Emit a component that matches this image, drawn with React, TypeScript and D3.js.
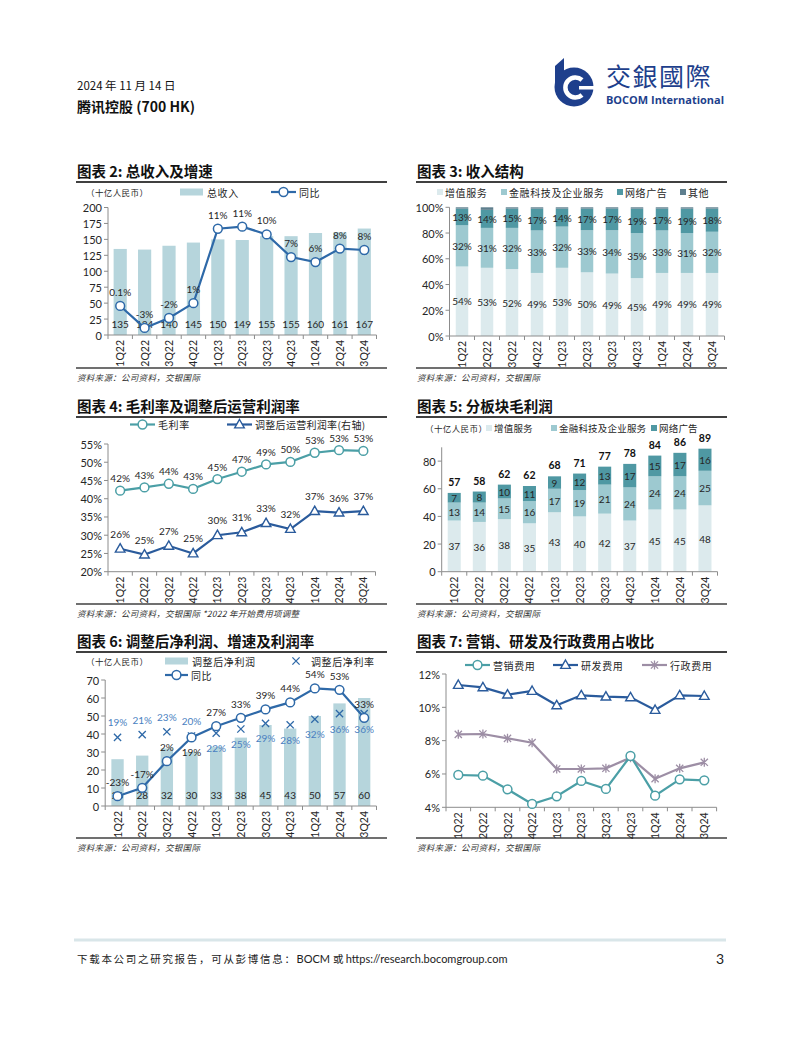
import React from "react";
import * as d3 from "d3";

// ---------------- DATA ----------------
const quarters = ["1Q22", "2Q22", "3Q22", "4Q22", "1Q23", "2Q23", "3Q23", "4Q23", "1Q24", "2Q24", "3Q24"];

// Chart 2: total revenue (RMB bn) and YoY growth (%)
const revenue = [135, 134, 140, 145, 150, 149, 155, 155, 160, 161, 167];
const revenueYoY = [0.1, -3.0, -1.6, 0.5, 11.0, 11.3, 10.2, 7.0, 6.3, 8.2, 8.0];
const revenueYoYLabels = ["0.1%", "-3%", "-2%", "1%", "11%", "11%", "10%", "7%", "6%", "8%", "8%"];
const revTicks = [0, 25, 50, 75, 100, 125, 150, 175, 200];

// Chart 3: revenue mix (%)
const mixVAS = [54, 53, 52, 49, 53, 50, 49, 45, 49, 49, 49];
const mixFintech = [32, 31, 32, 33, 32, 33, 34, 35, 33, 31, 32];
const mixAds = [13, 14, 15, 17, 14, 17, 17, 19, 17, 19, 18];
const mixOther = [1, 2, 1, 1, 1, 1, 1, 1, 1, 1, 1];
const mixTicks = [0, 0.2, 0.4, 0.6, 0.8, 1];

// Chart 4: margins (%)
const grossMargin = [42.2, 43.1, 44.1, 42.7, 45.4, 47.4, 49.4, 50.1, 52.6, 53.3, 53.1];
const opMargin = [26.3, 24.7, 27.1, 25.0, 30.0, 30.8, 33.3, 31.7, 36.6, 36.2, 36.6];
const marginTicks = [20, 25, 30, 35, 40, 45, 50, 55];

// Chart 5: gross profit by segment (RMB bn)
const gpVAS = [37, 36, 38, 35, 43, 40, 42, 37, 45, 45, 48];
const gpFintech = [13, 14, 15, 16, 17, 19, 21, 24, 24, 24, 25];
const gpAds = [7, 8, 10, 11, 9, 12, 13, 17, 15, 17, 16];
const gpTotal = [57, 58, 62, 62, 68, 71, 77, 78, 84, 86, 89];
const gpTicks = [0, 20, 40, 60, 80];

// Chart 6: adjusted net profit (RMB bn), YoY (%), net margin (%)
const adjNP = [26, 28, 32, 30, 33, 38, 45, 43, 50, 57, 60];
const npYoY = [-23, -17, 2, 19, 27, 33, 39, 44, 54, 53, 33];
const npMargin = [19, 21, 23, 20, 22, 25, 29, 28, 32, 36, 36];
const npTicks = [0, 10, 20, 30, 40, 50, 60, 70];

// Chart 7: expense ratios (%)
const sellingRatio = [5.94, 5.9, 5.08, 4.2, 4.66, 5.58, 5.1, 7.08, 4.7, 5.68, 5.62];
const rdRatio = [11.34, 11.2, 10.76, 10.98, 10.12, 10.72, 10.64, 10.6, 9.84, 10.72, 10.68];
const adminRatio = [8.38, 8.4, 8.14, 7.88, 6.3, 6.3, 6.34, 6.98, 5.72, 6.34, 6.7];
const expTicks = [4, 6, 8, 10, 12];

// ---------------- STYLE ----------------
const CJK = "'Noto Sans CJK SC', 'Noto Sans', sans-serif";
const NUM = "Lato, 'Noto Sans CJK SC', sans-serif";
const TXT = "#262626";
const AXIS = "#8c8c8c";
const BAR = "#b6d5dc";
const BLUE = "#2e69a8";
const DARKBLUE = "#2a5b9c";
const TEAL = "#4b9fa6";
const C_VAS = "#dceaed";
const C_FIN = "#9dc9d0";
const C_ADS = "#4f98a3";
const C_OTH = "#5f7f8e";
const PURPLE = "#9d8ea5";
const NAVY = "#1e3f8c";
const SOURCE = "资料来源：公司资料，交银国际";

type Band = d3.ScaleBand<string>;
const center = (x: Band, i: number) => (x(quarters[i]) as number) + x.bandwidth() / 2;

function Frame({ x0, x1, titleY, title, bottomY, source }: any) {
  return (
    <g>
      <text x={x0} y={titleY} fontFamily={CJK} fontWeight={700} fontSize={14.5} fill="#111" dominantBaseline="central">
        {title}
      </text>
      <line x1={x0 - 1} x2={x1} y1={titleY + 12} y2={titleY + 12} stroke="#404040" strokeWidth={1.8} />
      <line x1={x0 - 1} x2={x1} y1={bottomY} y2={bottomY} stroke="#404040" strokeWidth={1.6} />
      <text x={x0} y={bottomY + 8.5} fontFamily={CJK} fontStyle="italic" fontSize={8.5} fill="#333" dominantBaseline="central" letterSpacing={0.3}>
        {source}
      </text>
    </g>
  );
}

function YAxis({ x, scale, ticks, fmt }: any) {
  const [b, t] = scale.range();
  return (
    <g>
      <line x1={x} x2={x} y1={b} y2={t} stroke={AXIS} strokeWidth={1} />
      {ticks.map((v: number) => (
        <g key={v}>
          <line x1={x - 4} x2={x} y1={scale(v)} y2={scale(v)} stroke={AXIS} strokeWidth={1} />
          <text x={x - 6} y={scale(v)} textAnchor="end" dominantBaseline="central" fontFamily={NUM} fontSize={11} fill={TXT}>
            {fmt(v)}
          </text>
        </g>
      ))}
    </g>
  );
}

function XAxis({ x, y }: { x: Band; y: number }) {
  const [x0, x1] = x.range();
  const step = x.step();
  return (
    <g>
      <line x1={x0} x2={x1} y1={y} y2={y} stroke={AXIS} strokeWidth={1} />
      {d3.range(quarters.length + 1).map((i) => (
        <line key={"t" + i} x1={x0 + i * step} x2={x0 + i * step} y1={y} y2={y + 4} stroke={AXIS} strokeWidth={1} />
      ))}
      {quarters.map((q, i) => (
        <text
          key={q}
          transform={`translate(${center(x, i)},${y + 5}) rotate(-90)`}
          textAnchor="end"
          dominantBaseline="central"
          fontFamily={NUM}
          fontSize={10.5}
          fill={TXT}
        >
          {q}
        </text>
      ))}
    </g>
  );
}

function Marker({ t, x, y, c }: any) {
  if (t === "circle") return <circle cx={x} cy={y} r={4.4} fill="#fff" stroke={c} strokeWidth={1.5} />;
  if (t === "tri")
    return <path d={`M${x},${y - 5} L${x + 4.8},${y + 3.4} L${x - 4.8},${y + 3.4} Z`} fill="#fff" stroke={c} strokeWidth={1.4} />;
  if (t === "x")
    return (
      <path d={`M${x - 3.6},${y - 3.6} L${x + 3.6},${y + 3.6} M${x - 3.6},${y + 3.6} L${x + 3.6},${y - 3.6}`} stroke={c} strokeWidth={1.3} />
    );
  return (
    <path
      d={`M${x - 3.6},${y - 3.6} L${x + 3.6},${y + 3.6} M${x - 3.6},${y + 3.6} L${x + 3.6},${y - 3.6} M${x},${y - 4.5} L${x},${y + 4.5}`}
      stroke={c}
      strokeWidth={1.3}
    />
  );
}

function LegendLine({ x, y, c, t, label, w = 25, ls = 0.6 }: any) {
  return (
    <g>
      <line x1={x} x2={x + w} y1={y} y2={y} stroke={c} strokeWidth={2.2} />
      <Marker t={t} x={x + w / 2} y={y} c={c} />
      <text x={x + w + 3} y={y} dominantBaseline="central" fontFamily={CJK} fontSize={10} fill={TXT} letterSpacing={ls}>
        {label}
      </text>
    </g>
  );
}

function LegendSquare({ x, y, c, label, fs = 10, ls = 0.6 }: any) {
  return (
    <g>
      <rect x={x} y={y - 3} width={6} height={6} fill={c} />
      <text x={x + 8} y={y} dominantBaseline="central" fontFamily={CJK} fontSize={fs} fill={TXT} letterSpacing={ls}>
        {label}
      </text>
    </g>
  );
}

function Unit({ x, y }: any) {
  return (
    <text x={x} y={y} dominantBaseline="central" fontFamily={CJK} fontSize={8.5} fill={TXT} letterSpacing={0.4}>
      （十亿人民币）
    </text>
  );
}

// ---------------- CHART 2 ----------------
function Chart2() {
  const x = d3.scaleBand<string>().domain(quarters).range([108, 376.5]);
  const y = d3.scaleLinear().domain([0, 200]).range([335, 207.5]);
  const yr = d3.scaleLinear().domain([-4, 14]).range([335, 207.5]);
  const bw = x.bandwidth() * 0.54;
  const line = d3.line<number>().x((_, i) => center(x, i)).y((d) => yr(d));
  return (
    <g>
      <Frame x0={77} x1={387} titleY={170} title="图表 2: 总收入及增速" bottomY={368} source={SOURCE} />
      <Unit x={86} y={192} />
      <rect x={180} y={188.5} width={23} height={7} fill={BAR} />
      <text x={207} y={192} dominantBaseline="central" fontFamily={CJK} fontSize={10} fill={TXT} letterSpacing={0.6}>总收入</text>
      <LegendLine x={271} y={192} c={BLUE} t="circle" label="同比" />
      {revenue.map((v, i) => (
        <rect key={i} x={center(x, i) - bw / 2} y={y(v)} width={bw} height={y(0) - y(v)} fill={BAR} />
      ))}
      {revenue.map((v, i) => (
        <text key={"l" + i} x={center(x, i)} y={y(0) - 11} textAnchor="middle" dominantBaseline="central" fontFamily={NUM} fontSize={10} fill={TXT}>
          {v}
        </text>
      ))}
      <YAxis x={108} scale={y} ticks={revTicks} fmt={(v: number) => String(v)} />
      <XAxis x={x} y={335} />
      <path d={line(revenueYoY) as string} fill="none" stroke={BLUE} strokeWidth={2.2} />
      {revenueYoY.map((v, i) => (
        <Marker key={"m" + i} t="circle" x={center(x, i)} y={yr(v)} c={BLUE} />
      ))}
      {revenueYoY.map((v, i) => (
        <text key={"g" + i} x={center(x, i)} y={yr(v) - 14} textAnchor="middle" dominantBaseline="central" fontFamily={NUM} fontSize={10} fill={TXT}>
          {revenueYoYLabels[i]}
        </text>
      ))}
    </g>
  );
}

// ---------------- CHART 3 ----------------
function Chart3() {
  const x = d3.scaleBand<string>().domain(quarters).range([449.5, 724.5]);
  const y = d3.scaleLinear().domain([0, 1]).range([336, 207.3]);
  const bw = x.bandwidth() * 0.5;
  const rows = quarters.map((q, i) => ({ q, vas: mixVAS[i], fin: mixFintech[i], ads: mixAds[i], oth: mixOther[i] }));
  const keys = ["vas", "fin", "ads", "oth"];
  const colors = [C_VAS, C_FIN, C_ADS, C_OTH];
  const raws = [mixVAS, mixFintech, mixAds];
  const series = d3.stack<any>().keys(keys).offset(d3.stackOffsetExpand)(rows);
  return (
    <g>
      <Frame x0={417} x1={727} titleY={170} title="图表 3: 收入结构" bottomY={368} source={SOURCE} />
      <LegendSquare x={437} y={192} c={C_VAS} label="增值服务" />
      <LegendSquare x={501} y={192} c={C_FIN} label="金融科技及企业服务" />
      <LegendSquare x={617} y={192} c={C_ADS} label="网络广告" />
      <LegendSquare x={680} y={192} c={C_OTH} label="其他" />
      {series.map((s, k) =>
        s.map((d, i) => (
          <rect key={k + "-" + i} x={center(x, i) - bw / 2} y={y(d[1])} width={bw} height={y(d[0]) - y(d[1])} fill={colors[k]} />
        ))
      )}
      {series.slice(0, 3).map((s, k) =>
        s.map((d, i) => (
          <text key={"l" + k + "-" + i} x={center(x, i)} y={y((d[0] + d[1]) / 2)} textAnchor="middle" dominantBaseline="central" fontFamily={NUM} fontSize={10} fill={TXT}>
            {raws[k][i]}%
          </text>
        ))
      )}
      <YAxis x={449.5} scale={y} ticks={mixTicks} fmt={(v: number) => Math.round(v * 100) + "%"} />
      <XAxis x={x} y={336} />
    </g>
  );
}

// ---------------- CHART 4 ----------------
function Chart4() {
  const x = d3.scaleBand<string>().domain(quarters).range([108, 375.5]);
  const y = d3.scaleLinear().domain([20, 55]).range([571.7, 444]);
  const line = d3.line<number>().x((_, i) => center(x, i)).y((d) => y(d));
  return (
    <g>
      <Frame x0={77} x1={387} titleY={405} title="图表 4: 毛利率及调整后运营利润率" bottomY={604} source={SOURCE + "  *2022 年开始费用项调整"} />
      <LegendLine x={130} y={424.5} c={TEAL} t="circle" label="毛利率" />
      <LegendLine x={227} y={424.5} c={DARKBLUE} t="tri" label="调整后运营利润率(右轴)" ls={0.3} />
      <YAxis x={108} scale={y} ticks={marginTicks} fmt={(v: number) => v + "%"} />
      <XAxis x={x} y={571.7} />
      <path d={line(grossMargin) as string} fill="none" stroke={TEAL} strokeWidth={2.2} />
      <path d={line(opMargin) as string} fill="none" stroke={DARKBLUE} strokeWidth={2.2} />
      {grossMargin.map((v, i) => (
        <g key={"g" + i}>
          <Marker t="circle" x={center(x, i)} y={y(v)} c={TEAL} />
          <text x={center(x, i)} y={y(v) - 12.5} textAnchor="middle" dominantBaseline="central" fontFamily={NUM} fontSize={10} fill={TXT}>
            {Math.round(v)}%
          </text>
        </g>
      ))}
      {opMargin.map((v, i) => (
        <g key={"o" + i}>
          <Marker t="tri" x={center(x, i)} y={y(v)} c={DARKBLUE} />
          <text x={center(x, i)} y={y(v) - 15} textAnchor="middle" dominantBaseline="central" fontFamily={NUM} fontSize={10} fill={TXT}>
            {Math.round(v)}%
          </text>
        </g>
      ))}
    </g>
  );
}

// ---------------- CHART 5 ----------------
function Chart5() {
  const x = d3.scaleBand<string>().domain(quarters).range([441.7, 717.5]);
  const y = d3.scaleLinear().domain([0, 90]).range([571.7, 447.3]);
  const bw = x.bandwidth() * 0.52;
  const rows = quarters.map((q, i) => ({ q, vas: gpVAS[i], fin: gpFintech[i], ads: gpAds[i] }));
  const keys = ["vas", "fin", "ads"];
  const colors = [C_VAS, C_FIN, C_ADS];
  const raws = [gpVAS, gpFintech, gpAds];
  const series = d3.stack<any>().keys(keys)(rows);
  const top = series[series.length - 1];
  return (
    <g>
      <Frame x0={417} x1={727} titleY={405} title="图表 5: 分板块毛利润" bottomY={604} source={SOURCE} />
      <Unit x={425} y={428} />
      <LegendSquare x={486} y={428} c={C_VAS} label="增值服务" fs={9.5} ls={0.2} />
      <LegendSquare x={551} y={428} c={C_FIN} label="金融科技及企业服务" fs={9.5} ls={0.2} />
      <LegendSquare x={651} y={428} c={C_ADS} label="网络广告" fs={9.5} ls={0.2} />
      {series.map((s, k) =>
        s.map((d, i) => (
          <rect key={k + "-" + i} x={center(x, i) - bw / 2} y={y(d[1])} width={bw} height={y(d[0]) - y(d[1])} fill={colors[k]} />
        ))
      )}
      {series.map((s, k) =>
        s.map((d, i) => (
          <text key={"l" + k + "-" + i} x={center(x, i)} y={y((d[0] + d[1]) / 2)} textAnchor="middle" dominantBaseline="central" fontFamily={NUM} fontSize={10} fill={TXT}>
            {raws[k][i]}
          </text>
        ))
      )}
      {gpTotal.map((v, i) => (
        <text key={"t" + i} x={center(x, i)} y={y(top[i][1]) - 11} textAnchor="middle" dominantBaseline="central" fontFamily={NUM} fontWeight={700} fontSize={10.5} fill="#111">
          {v}
        </text>
      ))}
      <YAxis x={441.7} scale={y} ticks={gpTicks} fmt={(v: number) => String(v)} />
      <XAxis x={x} y={571.7} />
    </g>
  );
}

// ---------------- CHART 6 ----------------
function Chart6() {
  const x = d3.scaleBand<string>().domain(quarters).range([105.2, 376.5]);
  const y = d3.scaleLinear().domain([0, 70]).range([806, 680]);
  const yr = d3.scaleLinear().domain([-30, 60]).range([806, 680]);
  const bw = x.bandwidth() * 0.5;
  const line = d3.line<number>().x((_, i) => center(x, i)).y((d) => yr(d));
  const MB = "#4a7fc1";
  return (
    <g>
      <Frame x0={77} x1={387} titleY={640} title="图表 6: 调整后净利润、增速及利润率" bottomY={838} source={SOURCE} />
      <Unit x={86} y={661} />
      <rect x={165} y={657.5} width={23} height={7} fill={BAR} />
      <text x={192} y={661} dominantBaseline="central" fontFamily={CJK} fontSize={10} fill={TXT} letterSpacing={0.6}>调整后净利润</text>
      <Marker t="x" x={296} y={661} c={BLUE} />
      <text x={311} y={661} dominantBaseline="central" fontFamily={CJK} fontSize={10} fill={TXT} letterSpacing={0.6}>调整后净利率</text>
      <LegendLine x={165} y={675} c={BLUE} t="circle" label="同比" w={23} />
      {adjNP.map((v, i) => (
        <rect key={i} x={center(x, i) - bw / 2} y={y(v)} width={bw} height={y(0) - y(v)} fill={BAR} />
      ))}
      {adjNP.map((v, i) => (
        <text key={"l" + i} x={center(x, i)} y={y(0) - 11} textAnchor="middle" dominantBaseline="central" fontFamily={NUM} fontSize={10} fill={TXT}>
          {v}
        </text>
      ))}
      <YAxis x={105.2} scale={y} ticks={npTicks} fmt={(v: number) => String(v)} />
      <XAxis x={x} y={806} />
      {npMargin.map((v, i) => (
        <g key={"m" + i}>
          <Marker t="x" x={center(x, i)} y={yr(v)} c={BLUE} />
          <text x={center(x, i)} y={i < 4 ? yr(v) - 15 : yr(v) + 15} textAnchor="middle" dominantBaseline="central" fontFamily={NUM} fontSize={10} fill={MB}>
            {v}%
          </text>
        </g>
      ))}
      <path d={line(npYoY) as string} fill="none" stroke={BLUE} strokeWidth={2.2} />
      {npYoY.map((v, i) => (
        <g key={"g" + i}>
          <Marker t="circle" x={center(x, i)} y={yr(v)} c={BLUE} />
          <text x={center(x, i)} y={i === 3 ? yr(v) + 15 : yr(v) - 14} textAnchor="middle" dominantBaseline="central" fontFamily={NUM} fontSize={10} fill={TXT}>
            {v}%
          </text>
        </g>
      ))}
    </g>
  );
}

// ---------------- CHART 7 ----------------
function Chart7() {
  const x = d3.scaleBand<string>().domain(quarters).range([446, 716.6]);
  const y = d3.scaleLinear().domain([4, 12]).range([807.3, 674]);
  const line = d3.line<number>().x((_, i) => center(x, i)).y((d) => y(d));
  const sets: [number[], string, string][] = [
    [adminRatio, PURPLE, "star"],
    [rdRatio, DARKBLUE, "tri"],
    [sellingRatio, TEAL, "circle"],
  ];
  return (
    <g>
      <Frame x0={417} x1={727} titleY={640} title="图表 7: 营销、研发及行政费用占收比" bottomY={838} source={SOURCE} />
      <LegendLine x={465} y={665} c={TEAL} t="circle" label="营销费用" />
      <LegendLine x={553} y={665} c={DARKBLUE} t="tri" label="研发费用" />
      <LegendLine x={642} y={665} c={PURPLE} t="star" label="行政费用" />
      <YAxis x={446} scale={y} ticks={expTicks} fmt={(v: number) => v + "%"} />
      <XAxis x={x} y={807.3} />
      {sets.map(([vals, c, t], k) => (
        <g key={k}>
          <path d={line(vals) as string} fill="none" stroke={c} strokeWidth={2.2} />
          {vals.map((v, i) => (
            <Marker key={i} t={t} x={center(x, i)} y={y(v)} c={c} />
          ))}
        </g>
      ))}
    </g>
  );
}

// ---------------- HEADER / FOOTER ----------------
function Header() {
  return (
    <g>
      <text x={77} y={85} dominantBaseline="central" fontFamily={CJK} fontSize={11.5} fill="#111">
        2024 年 11 月 14 日
      </text>
      <text x={77} y={106} dominantBaseline="central" fontFamily={CJK} fontWeight={700} fontSize={14} fill="#111">
        腾讯控股 (700 HK)
      </text>
      <g>
        <path d="M555,66 L564,58 L564,90 L555,90 Z" fill={NAVY} />
        <circle cx={574} cy={87} r={19.5} fill={NAVY} />
        <path d="M582,80 A10,10 0 1 0 582,95" fill="none" stroke="#fff" strokeWidth={4.5} />
        <rect x={579} y={86} width={16} height={3.5} fill="#fff" />
        <circle cx={572} cy={88} r={4} fill={NAVY} />
      </g>
      <text x={606} y={75} dominantBaseline="central" fontFamily="'Noto Sans CJK TC', 'Noto Sans CJK SC', sans-serif" fontSize={25} fill={NAVY} letterSpacing={1.5}>
        交銀國際
      </text>
      <text x={606} y={99} dominantBaseline="central" fontFamily="'Open Sans', 'Noto Sans', sans-serif" fontWeight={700} fontSize={11} fill={NAVY} textLength={118} lengthAdjust="spacingAndGlyphs">
        BOCOM International
      </text>
    </g>
  );
}

function Footer() {
  return (
    <g>
      <line x1={74} x2={726} y1={940} y2={940} stroke="#d9e6e9" strokeWidth={3} />
      <text x={77} y={958} dominantBaseline="central" fontFamily={CJK} fontSize={10.5} fill="#222">
        <tspan letterSpacing={1.7}>下载本公司之研究报告，可从彭博信息：</tspan>
        <tspan fontFamily={NUM} fontSize={11}>BOCM </tspan>
        <tspan>或 </tspan>
        <tspan fontFamily={NUM} fontSize={11}>https://research.bocomgroup.com</tspan>
      </text>
      <text x={724} y={958} textAnchor="end" dominantBaseline="central" fontFamily={NUM} fontSize={14} fill="#222">
        3
      </text>
    </g>
  );
}

export default function App() {
  return (
    <svg width={802} height={1037} viewBox="0 0 802 1037" style={{ position: "absolute", left: 0, top: 0, display: "block" }}>
      <rect width={802} height={1037} fill="#fff" />
      <Header />
      <Chart2 />
      <Chart3 />
      <Chart4 />
      <Chart5 />
      <Chart6 />
      <Chart7 />
      <Footer />
    </svg>
  );
}
